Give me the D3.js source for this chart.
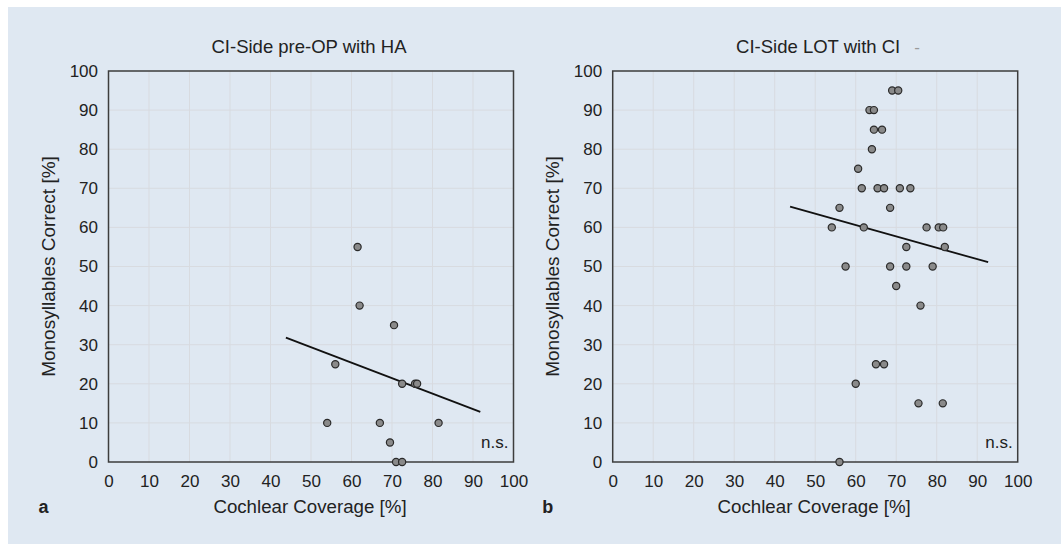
<!DOCTYPE html>
<html>
<head>
<meta charset="utf-8">
<script src="https://cdn.jsdelivr.net/npm/d3@7"></script>
<style>
  body { margin: 0; background: #fff; }
  svg text { font-family: "Liberation Sans", Arial, sans-serif; fill: #222; }
</style>
</head>
<body>
<div id="chart"></div>
<script>
// axis ticks (both panels share them)
const tickValues = [0, 10, 20, 30, 40, 50, 60, 70, 80, 90, 100];

// panel a: CI-Side pre-OP with HA
const preOpX = [61.5, 62, 70.5, 56, 72.5, 75.7, 76.2, 54, 67, 81.5, 69.5, 71, 72.5];
const preOpY = [55, 40, 35, 25, 20, 20, 20, 10, 10, 10, 5, 0, 0];
const preOpFitX = [43.8, 91.8];
const preOpFitY = [31.8, 12.8];

// panel b: CI-Side LOT with CI
const lotX = [69.0, 70.5, 63.4, 64.5, 64.5, 66.5, 64.0, 60.6,
              61.5, 65.4, 67.0, 70.9, 73.5, 56.0, 68.5,
              54.1, 62.0, 77.5, 80.5, 81.6, 72.5, 82.0,
              57.5, 68.5, 72.5, 79.0, 70.0, 76.0,
              65.0, 67.0, 60.0, 75.5, 81.5, 56.0];
const lotY = [95, 95, 90, 90, 85, 85, 80, 75,
              70, 70, 70, 70, 70, 65, 65,
              60, 60, 60, 60, 60, 55, 55,
              50, 50, 50, 50, 45, 40,
              25, 25, 20, 15, 15, 0];
const lotFitX = [43.8, 92.7];
const lotFitY = [65.3, 51.1];

const W = 1061, H = 544;
const svg = d3.select('#chart').append('svg')
    .attr('width', W)
    .attr('height', H);

// light blue figure background
svg.append('rect')
    .attr('x', 8).attr('y', 7)
    .attr('width', W - 8).attr('height', H - 7)
    .attr('fill', '#dfe8f2');

function drawPanel(opts) {
    const x = d3.scaleLinear().domain([0, 100]).range([opts.left, opts.left + 405]);
    const y = d3.scaleLinear().domain([0, 100]).range([462, 71]);
    const g = svg.append('g');

    // grid
    g.selectAll('.vgrid').data(tickValues.slice(1, -1)).enter()
        .append('line')
        .attr('x1', d => x(d)).attr('x2', d => x(d))
        .attr('y1', y(0)).attr('y2', y(100))
        .attr('stroke', '#d8dbe0').attr('stroke-width', 1);
    g.selectAll('.hgrid').data(tickValues.slice(1, -1)).enter()
        .append('line')
        .attr('x1', x(0)).attr('x2', x(100))
        .attr('y1', d => y(d)).attr('y2', d => y(d))
        .attr('stroke', '#d8dbe0').attr('stroke-width', 1);

    // axes (labels only, frame drawn separately)
    const xAxis = g.append('g')
        .attr('transform', `translate(0,${y(0)})`)
        .call(d3.axisBottom(x).tickValues(tickValues).tickSize(0).tickPadding(13));
    const yAxis = g.append('g')
        .attr('transform', `translate(${x(0)},0)`)
        .call(d3.axisLeft(y).tickValues(tickValues).tickSize(0).tickPadding(10.5));
    [xAxis, yAxis].forEach(a => {
        a.select('.domain').remove();
        a.selectAll('text')
            .style('font-size', '17px')
            .style('font-family', '"Liberation Sans", Arial, sans-serif')
            .attr('fill', '#222');
    });

    // frame
    g.append('rect')
        .attr('x', x(0)).attr('y', y(100))
        .attr('width', x(100) - x(0)).attr('height', y(0) - y(100))
        .attr('fill', 'none')
        .attr('stroke', '#3d3d3d')
        .attr('stroke-width', 1.5);

    // fit line
    g.append('line')
        .attr('x1', x(opts.fitX[0])).attr('y1', y(opts.fitY[0]))
        .attr('x2', x(opts.fitX[1])).attr('y2', y(opts.fitY[1]))
        .attr('stroke', '#111')
        .attr('stroke-width', 1.8);

    // points
    g.selectAll('.dot').data(opts.xs).enter()
        .append('circle')
        .attr('cx', d => x(d))
        .attr('cy', (d, i) => y(opts.ys[i]))
        .attr('r', 3.6)
        .attr('fill', '#8a8a8a')
        .attr('stroke', '#2a2a2a')
        .attr('stroke-width', 1.2);

    // texts
    g.append('text')
        .attr('x', x(50) + opts.titleShift).attr('y', 53)
        .attr('text-anchor', 'middle')
        .style('font-size', '18.5px')
        .text(opts.title);

    g.append('text')
        .attr('x', x(100) - 5).attr('y', 448)
        .attr('text-anchor', 'end')
        .style('font-size', '17px')
        .text('n.s.');

    g.append('text')
        .attr('x', x(50) - 1).attr('y', 513)
        .attr('text-anchor', 'middle')
        .style('font-size', '18.7px')
        .text('Cochlear Coverage [%]');

    g.append('text')
        .attr('transform', `translate(${x(0) - 60},${(y(0) + y(100)) / 2}) rotate(-90)`)
        .attr('text-anchor', 'middle')
        .attr('dominant-baseline', 'central')
        .style('font-size', '19px')
        .text('Monosyllables Correct [%]');

    g.append('text')
        .attr('x', x(0) - 65).attr('y', 513)
        .attr('text-anchor', 'middle')
        .style('font-size', '18px')
        .style('font-weight', 'bold')
        .attr('fill', '#111')
        .text(opts.letter);

    return {x, y, g};
}

drawPanel({left: 108.5, title: 'CI-Side pre-OP with HA', letter: 'a', titleShift: -2,
    xs: preOpX, ys: preOpY, fitX: preOpFitX, fitY: preOpFitY});

const b = drawPanel({left: 612.7, title: 'CI-Side LOT with CI', letter: 'b', titleShift: 3,
    xs: lotX, ys: lotY, fitX: lotFitX, fitY: lotFitY});

// small grey dash after the right title
b.g.append('text')
    .attr('x', 917).attr('y', 53)
    .attr('text-anchor', 'middle')
    .style('font-size', '17px')
    .style('fill', '#9a9a9a')
    .text('-');
</script>
</body>
</html>
